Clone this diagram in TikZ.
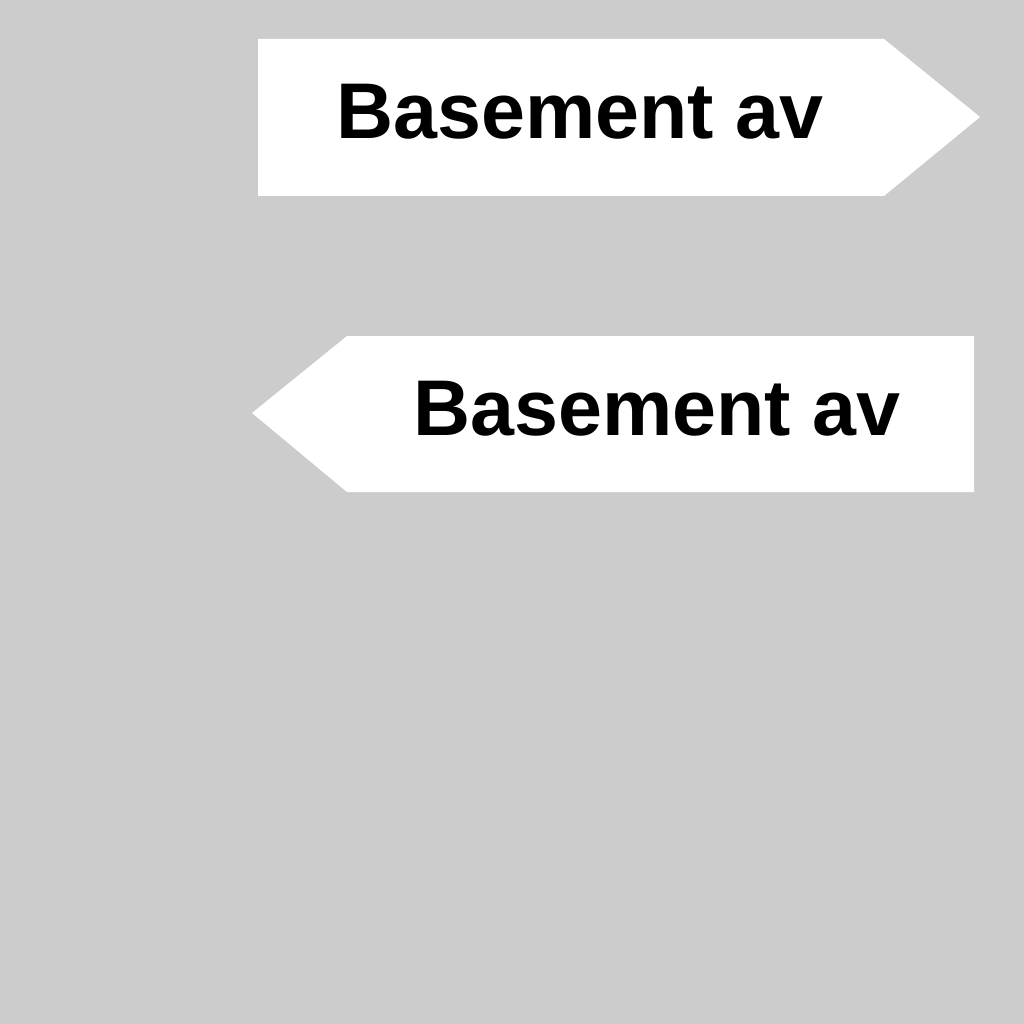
\documentclass[tikz,border=0pt]{standalone}
\usepackage{fontspec}
\setmainfont{Liberation Sans}
\begin{document}
\begin{tikzpicture}[x=1pt,y=-1pt,
  sign/.style={fill=white,draw=none},
  signtext/.style={inner sep=0pt,anchor=base,font=\bfseries\fontsize{79}{81}\selectfont,text=black}]
\useasboundingbox (0,0) rectangle (1024,1024);
\fill[fill={rgb,255:red,204;green,204;blue,204}] (0,0) rectangle (1024,1024);
\fill[sign] (258,39) -- (884,39) -- (980,117) -- (884,196) -- (258,196) -- cycle;
\fill[sign] (252,413) -- (347,336) -- (974,336) -- (974,492) -- (347,492) -- cycle;
\node[signtext] (t1) at (580,139) {Basement av};
\node[signtext] (t2) at (657,435) {Basement av};
\end{tikzpicture}
\end{document}
